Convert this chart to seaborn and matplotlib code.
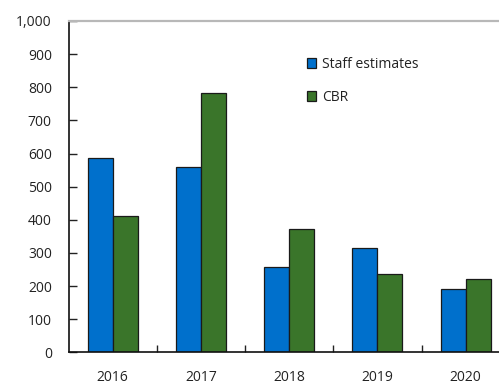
import matplotlib
matplotlib.use("Agg")
import matplotlib.pyplot as plt
import seaborn as sns
import pandas as pd
from matplotlib.patches import Patch

years = ["2016", "2017", "2018", "2019", "2020"]
staff_estimates = [585, 558, 258, 314, 192]
cbr = [410, 782, 371, 235, 220]
series_names = ["Staff estimates", "CBR"]
colors = ["#0070CC", "#3A752A"]
y_ticks = [0, 100, 200, 300, 400, 500, 600, 700, 800, 900, 1000]

df = pd.DataFrame({
    "year": years * 2,
    "value": staff_estimates + cbr,
    "series": [series_names[0]] * len(years) + [series_names[1]] * len(years),
})

sns.set_style("white")
plt.rcParams["font.family"] = ["Open Sans", "DejaVu Sans"]

W, H = 499, 382
fig = plt.figure(figsize=(W / 100, H / 100), dpi=100)
left_px, right_px, top_px, bottom_px = 68.5, 509.8, 21.0, 352.3
ax = fig.add_axes([left_px / W, 1 - bottom_px / H,
                   (right_px - left_px) / W, (bottom_px - top_px) / H])

sns.barplot(data=df, x="year", y="value", hue="series", order=years,
            hue_order=series_names, palette=dict(zip(series_names, colors)),
            saturation=1, width=0.567, gap=0, edgecolor="#1a1a1a", linewidth=0.9,
            errorbar=None, ax=ax, legend=False)

ax.set_xlim(-0.5, 4.5)
ax.set_ylim(0, 1000)
ax.set_yticks(y_ticks)
ax.set_yticklabels([f"{v:,}" for v in y_ticks])
ax.set_xlabel("")
ax.set_ylabel("")

# x ticks between categories
ax.set_xticks([0, 1, 2, 3, 4])
ax.set_xticklabels(years)
ax.set_xticks([0.5, 1.5, 2.5, 3.5], minor=True)
ax.tick_params(axis="x", which="major", length=0, pad=12.5, labelsize=10, colors="#222222")
ax.tick_params(axis="x", which="minor", direction="in", length=5, width=1, color="#222222")
ax.tick_params(axis="y", direction="in", length=6, width=1, pad=12, labelsize=10,
               color="#222222", labelcolor="#222222")
ax.tick_params(axis="y", left=True)
ax.tick_params(axis="x", which="minor", bottom=True)

for s in ["left", "bottom"]:
    ax.spines[s].set_visible(True)
    ax.spines[s].set_color("#111111")
    ax.spines[s].set_linewidth(1.2)
ax.spines["top"].set_visible(True)
ax.spines["top"].set_color("#b8b8b8")
ax.spines["top"].set_linewidth(1.6)
ax.spines["right"].set_visible(False)

handles = [Patch(facecolor=c, edgecolor="#1a1a1a", linewidth=0.9) for c in colors]
fig.legend(handles, series_names, loc="upper left",
           bbox_to_anchor=(300 / W, 1 - 50 / H), frameon=False,
           fontsize=10, handlelength=0.65, handleheight=0.65,
           handletextpad=0.45, labelspacing=1.3, borderpad=0,
           labelcolor="#222222")

fig.savefig("out.png", dpi=100)
